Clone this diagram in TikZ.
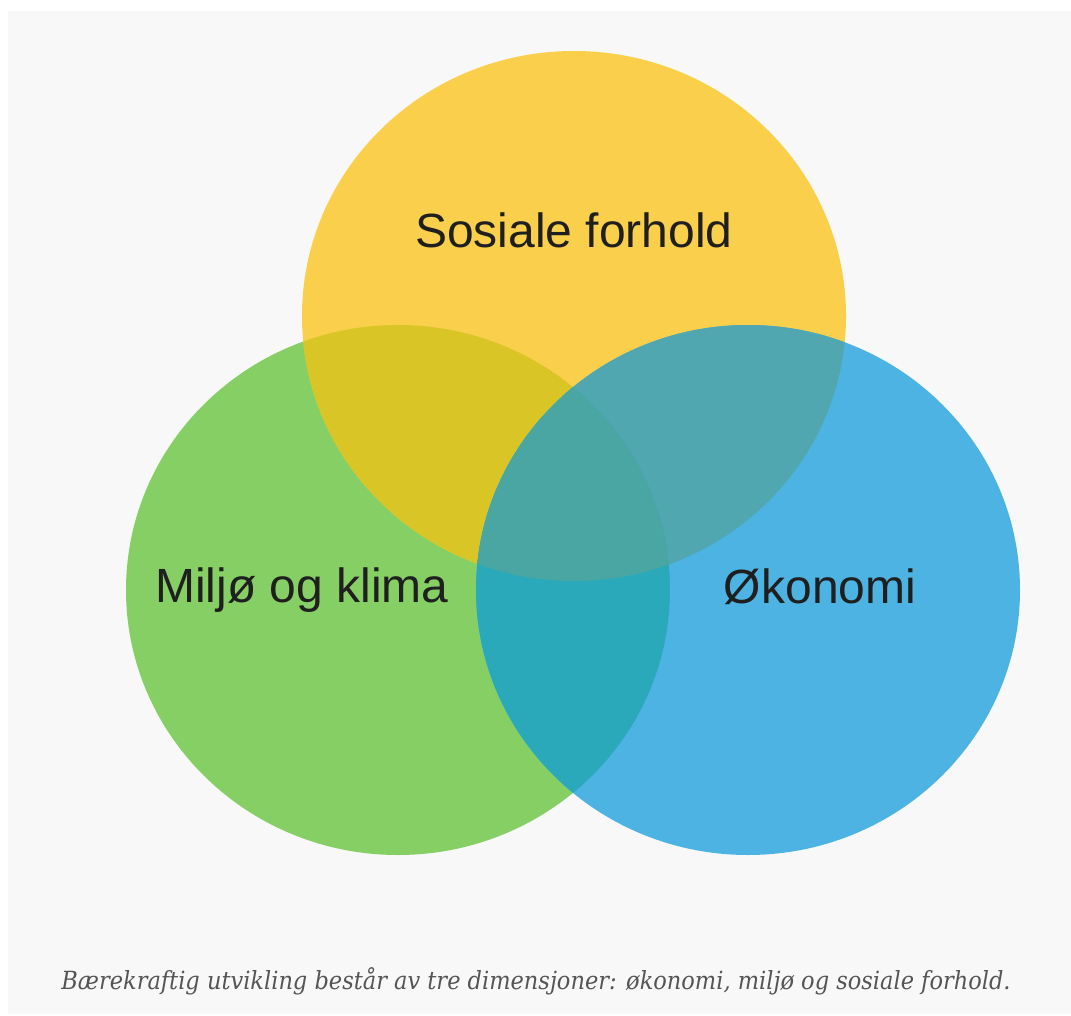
\documentclass[tikz,border=0pt]{standalone}
\usepackage{fontspec}
\setsansfont{Liberation Sans}
\newfontfamily\capfont[FakeStretch=0.9]{DejaVu Serif}
\usepackage{tikz}

\definecolor{bgGray}{HTML}{F8F8F8}
\definecolor{sosYellow}{HTML}{F9CF4B}
\definecolor{milGreen}{HTML}{86CF64}
\definecolor{okoBlue}{HTML}{4DB3E2}
\definecolor{sosMil}{HTML}{D9C626}
\definecolor{sosOko}{HTML}{51A7B0}
\definecolor{milOko}{HTML}{2AA9BB}
\definecolor{allThree}{HTML}{49A6A3}
\definecolor{capGray}{HTML}{555555}

\newcommand{\sosPath}{(574,316) ellipse [x radius=272, y radius=265]}
\newcommand{\milPath}{(398,590) ellipse [x radius=272, y radius=265]}
\newcommand{\okoPath}{(748,590) ellipse [x radius=272, y radius=265]}

\begin{document}
\begin{tikzpicture}[x=1pt,y=-1pt,
   font=\sffamily,
   dim/.style={font=\sffamily\fontsize{48}{56}\selectfont,text=black!88,inner sep=0pt,anchor=base},
   caption/.style={font=\capfont\itshape\fontsize{25}{29}\selectfont,text=capGray,inner sep=0pt,anchor=base}]
\useasboundingbox (0,0) rectangle (1071,1016);
\fill[white] (0,0) rectangle (1071,1016);
\fill[bgGray] (8,11) rectangle (1071,1014);
\fill[milGreen] \milPath;
\fill[sosYellow] \sosPath;
\fill[okoBlue] \okoPath;
\begin{scope}
  \clip \sosPath;
  \fill[sosMil] \milPath;
  \fill[sosOko] \okoPath;
\end{scope}
\begin{scope}
  \clip \milPath;
  \fill[milOko] \okoPath;
\end{scope}
\begin{scope}
  \clip \sosPath;
  \clip \milPath;
  \fill[allThree] \okoPath;
\end{scope}
\node[dim] (sosiale) at (574,248) {Sosiale forhold};
\node[dim] (miljo) at (302,602) {Miljø og klima};
\node[dim] (okonomi) at (820,603) {Økonomi};
\node[caption] (bildetekst) at (536,989) {Bærekraftig utvikling består av tre dimensjoner: økonomi, miljø og sosiale forhold.};
\end{tikzpicture}
\end{document}
